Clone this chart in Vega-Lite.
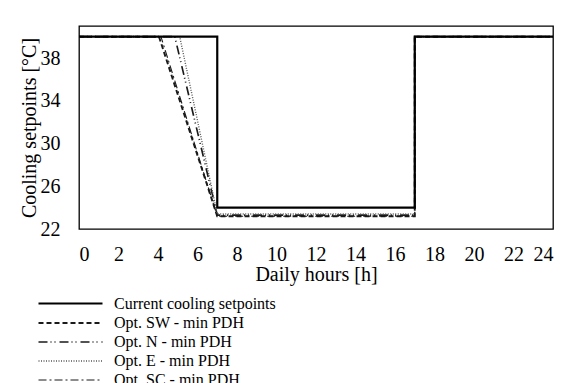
{
  "$schema": "https://vega.github.io/schema/vega-lite/v6.json",
  "width": 474,
  "height": 203,
  "autosize": {"type": "none"},
  "padding": {"left": 79, "top": 26, "right": 24, "bottom": 154},
  "background": "white",
  "config": {
    "font": "Liberation Serif, Times New Roman, serif",
    "view": {"stroke": "black", "strokeWidth": 1.3},
    "axis": {
      "domain": false,
      "grid": false,
      "ticks": false,
      "labelFont": "Liberation Serif, Times New Roman, serif",
      "titleFont": "Liberation Serif, Times New Roman, serif",
      "labelFontSize": 20,
      "titleFontSize": 20,
      "titleFontWeight": "normal",
      "labelColor": "black",
      "titleColor": "black"
    },
    "legend": {
      "labelFont": "Liberation Serif, Times New Roman, serif",
      "labelFontSize": 16,
      "labelColor": "black",
      "labelLimit": 400
    }
  },
  "data": {
    "values": [
      {"series": "Current cooling setpoints", "i": 0, "hour": 0, "temp": 40},
      {"series": "Current cooling setpoints", "i": 1, "hour": 7, "temp": 40},
      {"series": "Current cooling setpoints", "i": 2, "hour": 7, "temp": 24},
      {"series": "Current cooling setpoints", "i": 3, "hour": 17, "temp": 24},
      {"series": "Current cooling setpoints", "i": 4, "hour": 17, "temp": 40},
      {"series": "Current cooling setpoints", "i": 5, "hour": 24, "temp": 40},

      {"series": "Opt. SW - min PDH", "i": 0, "hour": 0, "temp": 40},
      {"series": "Opt. SW - min PDH", "i": 1, "hour": 4.05, "temp": 40},
      {"series": "Opt. SW - min PDH", "i": 2, "hour": 7, "temp": 23.2},
      {"series": "Opt. SW - min PDH", "i": 3, "hour": 17, "temp": 23.2},
      {"series": "Opt. SW - min PDH", "i": 4, "hour": 17, "temp": 40},
      {"series": "Opt. SW - min PDH", "i": 5, "hour": 24, "temp": 40},

      {"series": "Opt. N - min PDH", "i": 0, "hour": 0, "temp": 40},
      {"series": "Opt. N - min PDH", "i": 1, "hour": 4.85, "temp": 40},
      {"series": "Opt. N - min PDH", "i": 2, "hour": 7, "temp": 23.3},
      {"series": "Opt. N - min PDH", "i": 3, "hour": 17, "temp": 23.3},
      {"series": "Opt. N - min PDH", "i": 4, "hour": 17, "temp": 40},
      {"series": "Opt. N - min PDH", "i": 5, "hour": 24, "temp": 40},

      {"series": "Opt. E - min PDH", "i": 0, "hour": 0, "temp": 40},
      {"series": "Opt. E - min PDH", "i": 1, "hour": 5.1, "temp": 40},
      {"series": "Opt. E - min PDH", "i": 2, "hour": 7, "temp": 23.4},
      {"series": "Opt. E - min PDH", "i": 3, "hour": 17, "temp": 23.4},
      {"series": "Opt. E - min PDH", "i": 4, "hour": 17, "temp": 40},
      {"series": "Opt. E - min PDH", "i": 5, "hour": 24, "temp": 40},

      {"series": "Opt. SC - min PDH", "i": 0, "hour": 0, "temp": 40},
      {"series": "Opt. SC - min PDH", "i": 1, "hour": 4.15, "temp": 40},
      {"series": "Opt. SC - min PDH", "i": 2, "hour": 7, "temp": 23.2},
      {"series": "Opt. SC - min PDH", "i": 3, "hour": 17, "temp": 23.2},
      {"series": "Opt. SC - min PDH", "i": 4, "hour": 17, "temp": 40},
      {"series": "Opt. SC - min PDH", "i": 5, "hour": 24, "temp": 40}
    ]
  },
  "encoding": {
    "x": {
      "field": "hour",
      "type": "quantitative",
      "scale": {"domain": [0, 24], "nice": false},
      "axis": {
        "values": [0, 2, 4, 6, 8, 10, 12, 14, 16, 18, 20, 22, 24],
        "title": "Daily hours [h]",
        "labelPadding": 15,
        "titlePadding": 0
      }
    },
    "y": {
      "field": "temp",
      "type": "quantitative",
      "scale": {"domain": [22, 41], "nice": false, "zero": false},
      "axis": {
        "values": [22, 26, 30, 34, 38],
        "title": "Cooling setpoints [°C]",
        "labelPadding": 19,
        "titlePadding": 1
      }
    },
    "order": {"field": "i", "type": "quantitative"},
    "color": {
      "field": "series",
      "type": "nominal",
      "scale": {
        "domain": ["Current cooling setpoints", "Opt. SW - min PDH", "Opt. N - min PDH", "Opt. E - min PDH", "Opt. SC - min PDH"],
        "range": ["#000000", "#1a1a1a", "#1a1a1a", "#555555", "#1a1a1a"]
      },
      "legend": {
        "title": null,
        "orient": "none",
        "legendX": -18,
        "legendY": 268,
        "symbolType": "M-4,0H4",
        "symbolSize": 256,
        "labelOffset": 34,
        "rowPadding": 2,
        "padding": 0
      }
    },
    "strokeDash": {
      "field": "series",
      "type": "nominal",
      "scale": {
        "domain": ["Current cooling setpoints", "Opt. SW - min PDH", "Opt. N - min PDH", "Opt. E - min PDH", "Opt. SC - min PDH"],
        "range": [[1, 0], [5, 3], [9, 3, 1, 3, 1, 4], [1, 1.5], [8, 3, 2, 3]]
      }
    },
    "strokeWidth": {
      "field": "series",
      "type": "nominal",
      "scale": {
        "domain": ["Current cooling setpoints", "Opt. SW - min PDH", "Opt. N - min PDH", "Opt. E - min PDH", "Opt. SC - min PDH"],
        "range": [2.2, 1.1, 1.1, 0.8, 1.1]
      }
    }
  },
  "layer": [
    {
      "transform": [{"filter": "datum.series !== 'Current cooling setpoints'"}],
      "mark": {"type": "line", "strokeCap": "butt"}
    },
    {
      "transform": [{"filter": "datum.series === 'Current cooling setpoints'"}],
      "mark": {"type": "line", "strokeCap": "butt"}
    }
  ]
}
